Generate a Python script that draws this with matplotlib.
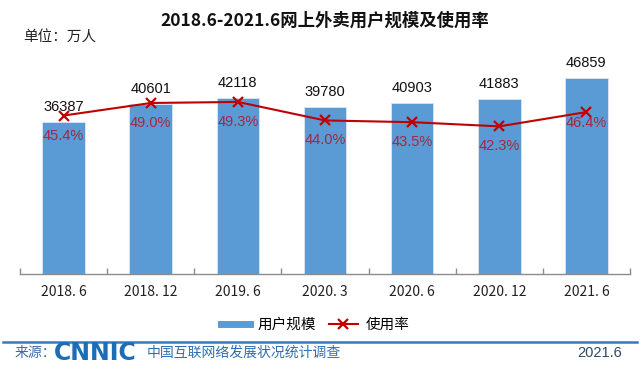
import matplotlib
matplotlib.use("Agg")
import matplotlib.pyplot as plt
from matplotlib.lines import Line2D
import numpy as np

plt.rcParams['font.family'] = ['Noto Sans CJK SC', 'DejaVu Sans']

# data
periods = ['2018. 6', '2018. 12', '2019. 6', '2020. 3', '2020. 6', '2020. 12', '2021. 6']
users = [36387, 40601, 42118, 39780, 40903, 41883, 46859]
rate = [45.4, 49.0, 49.3, 44.0, 43.5, 42.3, 46.4]

W, H = 640, 371
fig = plt.figure(figsize=(W / 100, H / 100), dpi=100)
fig.patch.set_facecolor('white')


def fx(px):
    return px / W


def fy(py):
    return 1 - py / H


ax = fig.add_axes([fx(20), fy(274), fx(610), fy(64.6) - fy(274)])
ax.patch.set_alpha(0)
x = np.arange(len(periods))
ax.bar(x, users, width=0.49, color='#5b9bd5', edgecolor='#dfe6ee', linewidth=0.6,
       zorder=2)
ax.set_xlim(-0.5, len(periods) - 0.5)
ax.set_ylim(0, 50000)
ax.set_yticks([])
for s in ['top', 'right', 'left']:
    ax.spines[s].set_visible(False)
ax.spines['bottom'].set_color('#8c8c8c')
ax.spines['bottom'].set_linewidth(1.0)
ax.set_xticks(np.arange(-0.5, len(periods)), minor=False)
ax.set_xticklabels([''] * (len(periods) + 1))
ax.tick_params(axis='x', direction='in', length=4, color='#8c8c8c', width=1)
ax.set_xticks(x, minor=True)
ax.set_xticklabels(periods, minor=True, fontsize=10, color='#222222')
ax.tick_params(axis='x', which='minor', length=0, pad=8)

for xi, v in zip(x, users):
    ax.annotate(str(v), (xi, v), xytext=(0, 10.8), textcoords='offset points',
                ha='center', va='center', fontsize=10.5, color='#111111',
                family='Liberation Sans', zorder=5)

ax2 = ax.twinx()
ax2.set_ylim(0, 60)
ax2.axis('off')
ax2.plot(x, rate, color='#c00000', lw=1.5, marker='x', markersize=7.5,
         markeredgewidth=1.6, zorder=4)
pct_offsets = [-14.4, -14.4, -14.4, -14.4, -14.4, -14.4, -8]
for xi, v, off in zip(x, rate, pct_offsets):
    ax2.annotate(f'{v:.1f}%', (xi, v), xytext=(0, off), textcoords='offset points',
                 ha='center', va='center', fontsize=10.5, color='#a3283f',
                 family='Liberation Sans', zorder=5)

# titles
fig.text(fx(325), fy(21), '2018.6-2021.6网上外卖用户规模及使用率', ha='center',
         va='center', fontsize=12.5, fontweight='bold', color='#111111')
fig.text(fx(23), fy(38), '单位：万人', ha='left', va='center', fontsize=10.5,
         color='#222222')

# legend
handles = [Line2D([], [], color='#5b9bd5', lw=5),
           Line2D([], [], color='#c00000', lw=1.5, marker='x', markersize=7.5,
                  markeredgewidth=1.6)]
fig.legend(handles, ['用户规模', '使用率'], loc='center',
           bbox_to_anchor=(fx(315), fy(325)), ncol=2, frameon=False,
           fontsize=10.5, handlelength=2.0, columnspacing=0.9, handletextpad=0.5)

# footer
fig.add_artist(Line2D([fx(3), fx(637)], [fy(342), fy(342)], color='#3a78b8',
                      lw=1.8, transform=fig.transFigure))
fig.text(fx(15), fy(353), '来源：', ha='left', va='center', fontsize=10,
         color='#3a6ea5')
fig.text(fx(54), fy(353), 'CNNIC', ha='left', va='center', fontsize=17,
         fontweight='bold', color='#1d6db5', family='DejaVu Sans')
fig.text(fx(147), fy(353), '中国互联网络发展状况统计调查', ha='left', va='center',
         fontsize=10, color='#2e6fb4')
fig.text(fx(622), fy(353), '2021.6', ha='right', va='center', fontsize=10.5,
         color='#2f4a68', family='Liberation Sans')

fig.savefig('out.png', dpi=100)
